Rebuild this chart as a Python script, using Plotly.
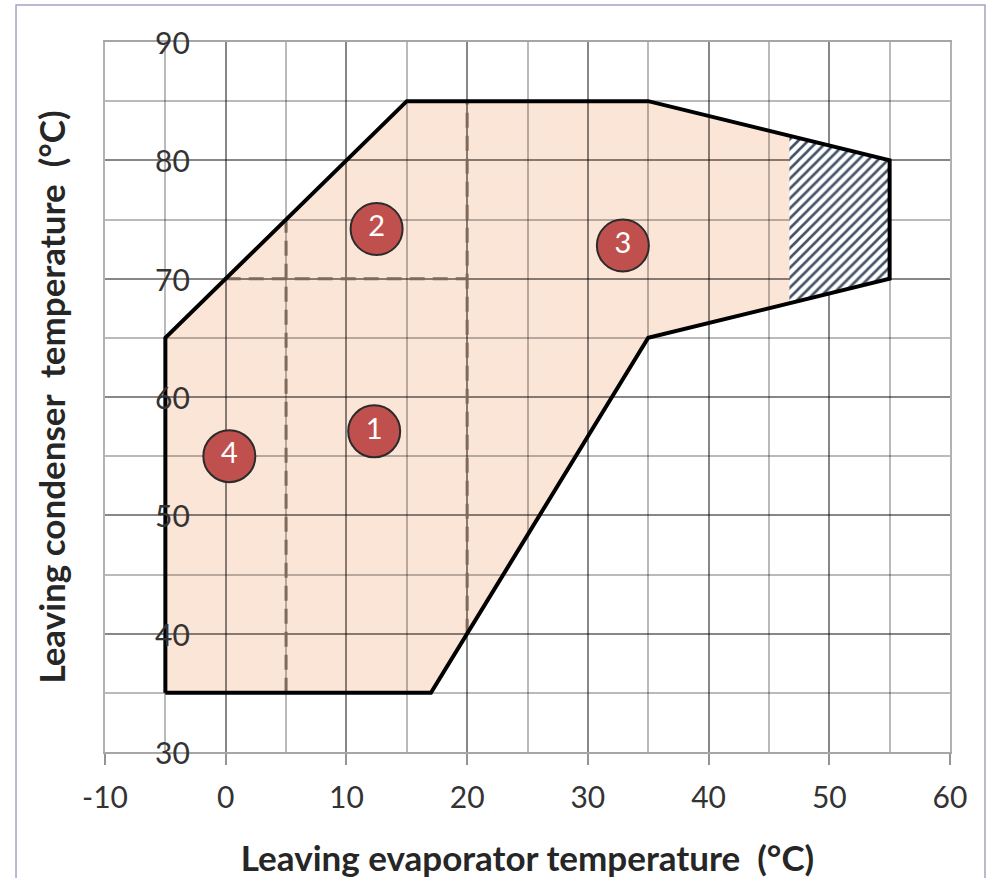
import numpy as np
import plotly.graph_objects as go

# Operating envelope (leaving evaporator temp, leaving condenser temp), closed polygon
env_x = [-5, -5, 15, 35, 55, 55, 35, 17, -5]
env_y = [35, 65, 85, 85, 80, 70, 65, 35, 35]

# Upper and lower boundaries of the envelope on the right-hand side
upper_x = [15, 35, 55]
upper_y = [85, 85, 80]
lower_x = [17, 35, 55]
lower_y = [35, 65, 70]

# Hatched zone at the high evaporator-temperature end
hatch_x_range = [46.7, 55]

# Dashed zone dividers: each item is (xs, ys)
divider_x = [[5, 5], [20, 20], [0, 20]]
divider_y = [[35, 75], [40, 85], [70, 70]]

# Numbered zone markers
zone_labels = ["1", "2", "3", "4"]
zone_x = [12.3, 12.5, 32.9, 0.3]
zone_y = [57.1, 74.2, 72.8, 55.0]

# Axis ticks
x_tick_vals = [-10, 0, 10, 20, 30, 40, 50, 60]
x_tick_text = ["-10", "0", "10", "20", "30", "40", "50", "60"]
y_tick_vals = [30, 40, 50, 60, 70, 80, 90]
y_tick_text = [str(v) for v in y_tick_vals]

FONT = "Lato"
GRID = "rgba(0,0,0,0.27)"

fig = go.Figure()

# Hatched area bounded by the envelope edges
hx = np.linspace(hatch_x_range[0], hatch_x_range[1], 2)
h_top = np.interp(hx, upper_x, upper_y)
h_bot = np.interp(hx, lower_x, lower_y)
poly_x = list(hx) + list(hx[::-1]) + [hx[0]]
poly_y = list(h_top) + list(h_bot[::-1]) + [h_top[0]]
fig.add_trace(go.Scatter(
    x=poly_x, y=poly_y, mode="lines", line=dict(width=0),
    fill="toself", fillcolor="white",
    fillpattern=dict(shape="/", fgcolor="#44546A", bgcolor="white",
                     size=7, solidity=0.38, fillmode="replace"),
    hoverinfo="skip", showlegend=False,
))

# Dashed dividers
for dx, dy in zip(divider_x, divider_y):
    fig.add_trace(go.Scatter(
        x=dx, y=dy, mode="lines",
        line=dict(color="#7d6a5c", width=3, dash="15px,8px"),
        hoverinfo="skip", showlegend=False,
    ))

# Envelope outline
fig.add_trace(go.Scatter(
    x=env_x, y=env_y, mode="lines",
    line=dict(color="black", width=4),
    hoverinfo="skip", showlegend=False,
))

# Zone markers
fig.add_trace(go.Scatter(
    x=zone_x, y=zone_y, mode="markers+text", text=zone_labels,
    textposition="middle center",
    textfont=dict(family=FONT, size=29, color="white"),
    marker=dict(size=52, color="#C0504D", line=dict(color="#2b2b2b", width=2)),
    hoverinfo="skip", showlegend=False,
))

# Envelope fill, drawn beneath the grid so the grid shows through
path = "M " + " L ".join(f"{x},{y}" for x, y in zip(env_x, env_y)) + " Z"
fig.add_shape(type="path", path=path, xref="x", yref="y",
              fillcolor="#FBE5D6", line=dict(width=0), layer="below")

# Y tick labels sit inside the plot area
for v, t in zip(y_tick_vals, y_tick_text):
    fig.add_annotation(x=-4.43, y=v, xref="x", yref="y", text=t,
                       showarrow=False, xanchor="center", yanchor="middle",
                       font=dict(family=FONT, size=30, color="#333333"))

# Outer frame
fig.add_shape(type="rect", xref="paper", yref="paper",
              x0=-0.1053, x1=1.0414, y0=-0.2, y1=1.0521,
              line=dict(color="#A3A3C2", width=1.5), fillcolor="rgba(0,0,0,0)",
              layer="below")

fig.update_xaxes(
    range=[-10, 60], tickvals=x_tick_vals, ticktext=x_tick_text,
    showgrid=True, gridcolor=GRID, gridwidth=2,
    minor=dict(dtick=5, tick0=0, showgrid=True, gridcolor=GRID, gridwidth=2),
    ticks="outside", ticklen=11, tickwidth=2, tickcolor="rgba(0,0,0,0.42)",
    showline=True, linecolor="rgba(0,0,0,0.35)", linewidth=2, mirror=True,
    zeroline=False, ticklabelstandoff=7, automargin=False,
    tickfont=dict(family=FONT, size=30, color="#333333"),
    title=dict(text="Leaving evaporator temperature\u00a0 (°C)", standoff=34,
               font=dict(family=FONT, size=35, color="#262626", weight="bold")),
)
fig.update_yaxes(
    range=[30, 90], tickvals=y_tick_vals, showgrid=True, gridcolor=GRID, gridwidth=2,
    minor=dict(dtick=5, tick0=0, showgrid=True, gridcolor=GRID, gridwidth=2),
    showticklabels=False, ticks="", zeroline=False, automargin=False,
    showline=True, linecolor="rgba(0,0,0,0.30)", linewidth=2, mirror=True,
    title=dict(text="Leaving condenser\u00a0 temperature\u00a0 (°C)", standoff=27,
               font=dict(family=FONT, size=35, color="#262626", weight="bold")),
)

fig.update_layout(
    width=991, height=878, autosize=False,
    margin=dict(l=105, r=41, t=42, b=126),
    paper_bgcolor="white", plot_bgcolor="white",
    font=dict(family=FONT),
)

fig.write_html("out.html")
